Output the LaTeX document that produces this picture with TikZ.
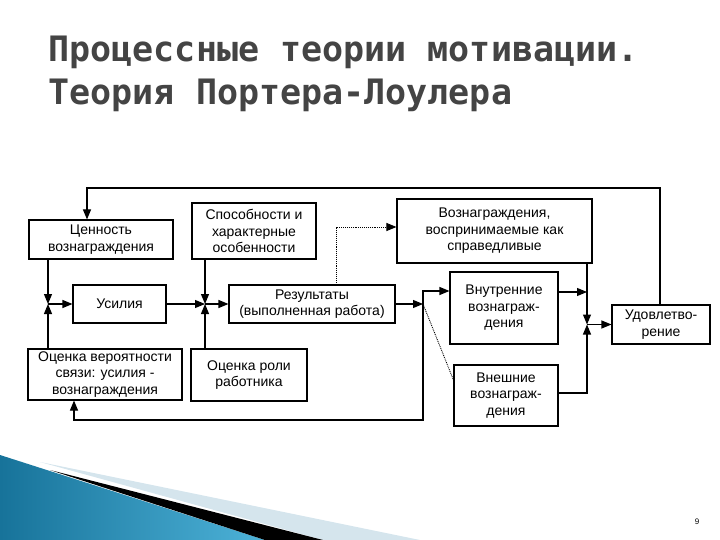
\documentclass[tikz,border=0pt]{standalone}
\usepackage{fontspec}
\setmainfont{Liberation Sans}
\newfontfamily\titlefont{DejaVu Sans Mono}
\usetikzlibrary{positioning, arrows.meta, calc}

\definecolor{titlegray}{HTML}{444444}
\definecolor{tealdark}{HTML}{17739A}
\definecolor{teallight}{HTML}{4DB2D8}
\definecolor{bandgray}{HTML}{D5E5ED}

\tikzset{
  box/.style={draw, line width=1.1pt, align=center, inner sep=2pt,
    font=\fontsize{14}{16.5}\selectfont},
  arr/.style={-{Triangle[length=10pt,width=8pt]}, line width=1.1pt},
  dotline/.style={densely dotted, line width=0.9pt},
  headline/.style={anchor=base west, text=titlegray, font=\titlefont\bfseries\fontsize{35}{44}\selectfont}
}

\begin{document}
\begin{tikzpicture}[x=1pt, y=-1pt]
				\useasboundingbox (0,0) rectangle (720,540);
				
				% corner decoration
				\shade[left color=tealdark, right color=teallight] (0,455) -- (265,540) -- (0,540) -- cycle;
				\fill[bandgray] (40,462) -- (420,540) -- (323,540) -- cycle;
				\fill[black] (50,470) -- (323,540) -- (265,540) -- cycle;
				\node[font=\footnotesize, anchor=base] (page) at (697,524) {9};
				
				% title
				\node[headline] (t1) at (45,62) {Процессные теории мотивации.};
				\node[headline] (t2) at (45,105) {Теория Портера-Лоулера};
				
				% boxes
				\node[box, minimum width=144pt, minimum height=39pt] (val) at (101,239.5) {Ценность\\вознаграждения};
				\node[box, minimum width=124pt, minimum height=56pt] (abil) at (254,231) {Способности и\\характерные\\особенности};
				\node[box, minimum width=195pt, minimum height=64pt] (fair) at (494.5,231) {Вознаграждения,\\воспринимаемые как\\справедливые};
				\node[box, minimum width=93pt, minimum height=38pt] (effort) at (119.5,304) {Усилия};
				\node[box, minimum width=166pt, minimum height=38pt] (perf) at (312,304) {Результаты\\(выполненная работа)};
				\node[box, minimum width=108pt, minimum height=72pt] (intr) at (504,308) {Внутренние\\вознаграж-\\дения};
				\node[box, minimum width=98pt, minimum height=39pt] (sat) at (661,324.5) {Удовлетво-\\рение};
				\node[box, minimum width=154pt, minimum height=51pt] (prob) at (105,374.5) {Оценка вероятности\\связи: усилия -\\вознаграждения};
				\node[box, minimum width=116pt, minimum height=52pt] (role) at (249,375) {Оценка роли\\работника};
				\node[box, minimum width=104pt, minimum height=61pt] (extr) at (506,395.5) {Внешние\\вознаграж-\\дения};
				
				% junctions and bends
				\coordinate (j1) at (48,304);
				\coordinate (j2) at (205,304);
				\coordinate (j3) at (423,304);
				\coordinate (j4) at (587,324.5);
				\coordinate (up3) at (423,291);
				\coordinate (back) at (74,420);
				\coordinate (dotx) at (336,227);
				\coordinate (inry) at (587,292);
				\coordinate (exry) at (587,393);
				\coordinate (fbr) at (660,188);
				\coordinate (fbl) at (87,188);
				
				% connectors
				\draw[arr] (val.south -| j1) -- (j1);
				\draw[arr] (prob.north -| j1) -- (j1);
				\draw[arr] (j1) -- (effort.west);
				\draw[arr] (effort.east) -- (j2);
				\draw[arr] (abil.south -| j2) -- (j2);
				\draw[arr] (role.north -| j2) -- (j2);
				\draw[arr] (j2) -- (perf.west);
				\draw[arr] (perf.east) -- (j3);
				\draw[arr] (j3) -- (up3) -- (up3 -| intr.west);
				\draw[arr] (j3) |- (back) -- (back |- prob.south);
				\draw[dotline] (j3) -- ($(extr.north west)!0.25!(extr.south west)$);
				\draw[dotline, arr, line width=0.9pt] (perf.north -| dotx) -- (dotx) -- (dotx -| fair.west);
				\draw[arr] (fair.south -| j4) -- (j4);
				\draw[arr] (inry -| intr.east) -- (inry);
				\draw[arr] (exry -| extr.east) -- (exry) -- (j4);
				\draw[arr] (j4) -- (sat.west);
				\draw[arr] (fbr |- sat.north) -- (fbr) -- (fbl) -- (fbl |- val.north);
			\end{tikzpicture}
\end{document}
